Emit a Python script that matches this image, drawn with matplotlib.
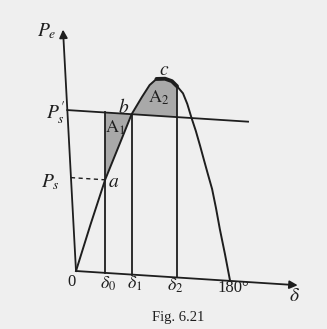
import numpy as np
import matplotlib
matplotlib.use("Agg")
import matplotlib.pyplot as plt
from matplotlib.transforms import Affine2D

plt.rcParams["mathtext.fontset"] = "stix"
plt.rcParams["font.family"] = "Liberation Serif"

# power-angle curve (delta in degrees, Pe in per unit of Pmax)
delta_curve = np.array([0, 17, 34, 50, 65, 77, 86, 94, 104, 112, 118, 125,
                        130, 135, 140, 145, 149.5, 154, 159, 163.5, 168,
                        174, 180])
pe_curve = np.array([0, 0.24, 0.47, 0.645, 0.81, 0.90, 0.963, 0.996, 1.0,
                     0.99, 0.966, 0.932, 0.88, 0.81, 0.746, 0.672, 0.602,
                     0.533, 0.458, 0.364, 0.259, 0.134, 0])

ps_old = 0.47      # initial mechanical input
ps_new = 0.81      # input after the step change
delta_0 = 34
delta_1 = 65
delta_2 = 118

ink = "#1e1e1e"
shade = "#a9a9a9"

fig = plt.figure(figsize=(3.27, 3.29), dpi=100, facecolor="#efefef")
ax = fig.add_axes([0, 0, 1, 1])
ax.set_xlim(0, 327)
ax.set_ylim(329, 0)
ax.axis("off")

# slightly skewed hand-drawn axes: delta runs right and a bit down
tr = Affine2D.from_values(0.856, 0.055, 0, -198, 76, 271) + ax.transData

# shaded areas A1 and A2
m1 = (delta_curve >= delta_0) & (delta_curve <= delta_1)
a1_x = np.r_[delta_curve[m1], delta_0]
a1_y = np.r_[pe_curve[m1], ps_new]
ax.fill(a1_x, a1_y, color=shade, lw=0, transform=tr)

m2 = (delta_curve >= delta_1) & (delta_curve <= delta_2)
a2_x = np.r_[delta_curve[m2], delta_2]
a2_y = np.r_[pe_curve[m2], ps_new]
ax.fill(a2_x, a2_y, color=shade, lw=0, transform=tr)

# curve, with the heavier stroke around the peak c
ax.plot(delta_curve, pe_curve, color=ink, lw=1.4, transform=tr,
        solid_joinstyle="round")
mp = (delta_curve >= 94) & (delta_curve <= 118)
ax.plot(delta_curve[mp], pe_curve[mp], color=ink, lw=2.8,
        solid_capstyle="round", solid_joinstyle="round", transform=tr)

# input power lines
ax.plot([-10.2, 201], [ps_new, ps_new], color=ink, lw=1.3, transform=tr)
ax.plot([-5.9, delta_0], [ps_old, ps_old], color=ink, lw=1.0,
        ls=(0, (3, 2.5)), transform=tr)

# ordinates at delta_0, delta_1, delta_2
ax.plot([delta_0, delta_0], [0, ps_new], color=ink, lw=1.3, transform=tr)
ax.plot([delta_1, delta_1], [0, ps_new], color=ink, lw=1.3, transform=tr)
ax.plot([delta_2, delta_2], [0, pe_curve[delta_curve == delta_2][0]],
        color=ink, lw=1.3, transform=tr)

# axes with arrow heads
arrow = dict(arrowstyle="-|>", color=ink, lw=1.3, mutation_scale=12,
             shrinkA=0, shrinkB=0)
ax.annotate("", xy=(-15.2, 1.215), xytext=(0, 0), xycoords=tr,
            textcoords=tr, arrowprops=arrow)
ax.annotate("", xy=(259, 0), xytext=(0, 0), xycoords=tr,
            textcoords=tr, arrowprops=arrow)

labels = [
    (-34, 1.20, r"$P_e$", 14),
    (-24.5, 0.79, r"$P_s^{\prime}$", 14),
    (-30.4, 0.44, r"$P_s$", 14),
    (43.5, 0.46, r"$a$", 14),
    (56, 0.84, r"$b$", 14),
    (102.8, 1.04, r"$c$", 14),
    (46, 0.735, r"$\mathrm{A}_1$", 13),
    (97, 0.90, r"$\mathrm{A}_2$", 13),
    (-5.8, -0.057, "0", 12),
    (37.4, -0.056, r"$\delta_0$", 13),
    (68.9, -0.046, r"$\delta_1$", 13),
    (115.7, -0.043, r"$\delta_2$", 13),
    (183.4, -0.035, "180°", 12),
    (254.7, -0.06, r"$\delta$", 14),
]
for x, y, s, fs in labels:
    ax.text(x, y, s, fontsize=fs, color=ink, ha="center", va="center",
            transform=tr)

fig.text(178 / 327, 1 - 318 / 329, "Fig. 6.21", fontsize=10.5, color=ink,
         ha="center", va="center", family="Liberation Serif")

fig.savefig("out.png", dpi=100, facecolor=fig.get_facecolor())
